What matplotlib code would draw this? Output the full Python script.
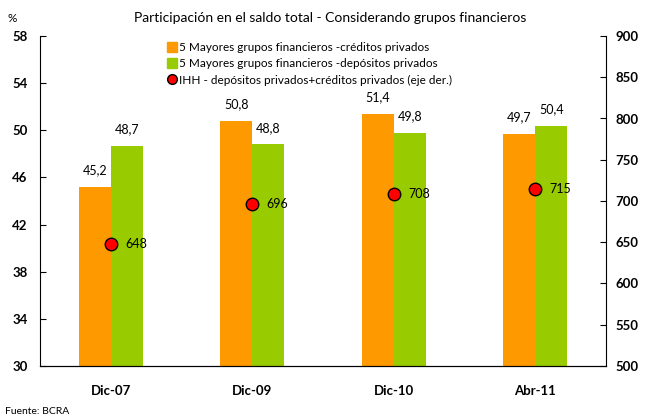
import numpy as np
import matplotlib
matplotlib.use('Agg')
import matplotlib.pyplot as plt
from matplotlib.lines import Line2D

plt.rcParams['font.family'] = ['Lato', 'DejaVu Sans']

# data
categories = ['Dic-07', 'Dic-09', 'Dic-10', 'Abr-11']
creditos = [45.2, 50.8, 51.4, 49.7]
depositos = [48.7, 48.8, 49.8, 50.4]
ihh = [648, 696, 708, 715]

orange = '#FF9900'
green = '#99CC00'

fig = plt.figure(figsize=(6.45, 4.19), dpi=100)
ax = fig.add_axes([40/645, 1 - 366/419, 566/645, 330/419])
x = np.arange(len(categories))
w = 0.226

ax.bar(x - w/2, creditos, w, color=orange, zorder=2)
ax.bar(x + w/2, depositos, w, color=green, zorder=2)
for xi, v in zip(x, creditos):
    ax.text(xi - w/2, v + 0.9, f'{v:.1f}'.replace('.', ','), ha='center', va='bottom', fontsize=9)
for xi, v in zip(x, depositos):
    ax.text(xi + w/2, v + 0.9, f'{v:.1f}'.replace('.', ','), ha='center', va='bottom', fontsize=9)

ax.set_ylim(30, 58)
ax.set_xlim(-0.5, 3.5)
ax.set_yticks(np.arange(30, 59, 4))
ax.set_xticks(x)
ax.set_xticklabels(categories, fontweight='bold', fontsize=9.5)
ax.tick_params(axis='x', length=0, pad=14)
ax.tick_params(axis='y', direction='in', length=4, labelsize=9.5, pad=9)
for lab in ax.get_yticklabels():
    lab.set_fontweight('bold')
ax.spines['top'].set_visible(False)
ax.spines['right'].set_visible(False)

ax2 = ax.twinx()
ax2.plot(x, ihh, linestyle='none', marker='o', markersize=9, markerfacecolor='#FF0000',
         markeredgecolor='black', markeredgewidth=1, zorder=5)
for xi, v in zip(x, ihh):
    ax2.text(xi + 0.1, v, str(v), ha='left', va='center', fontsize=9)
ax2.set_ylim(500, 900)
ax2.set_yticks(np.arange(500, 901, 50))
ax2.tick_params(axis='y', direction='in', length=4, labelsize=9.5, pad=7)
for lab in ax2.get_yticklabels():
    lab.set_fontweight('bold')
ax2.spines['top'].set_visible(False)
ax2.spines['left'].set_visible(False)

handles = [
    Line2D([], [], linestyle='none', marker='s', markersize=7, color=orange),
    Line2D([], [], linestyle='none', marker='s', markersize=7, color=green),
    Line2D([], [], linestyle='none', marker='o', markersize=7, markerfacecolor='#FF0000',
           markeredgecolor='black'),
]
labels = ['5 Mayores grupos financieros -créditos privados',
          '5 Mayores grupos financieros -depósitos privados',
          'IHH - depósitos privados+créditos privados (eje der.)']
fig.legend(handles, labels, loc='upper left', bbox_to_anchor=(160/645, 1 - 36/419),
           frameon=False, fontsize=8.5, handletextpad=0.1, labelspacing=0.45,
           borderpad=0, handlelength=1)

fig.text(330/645, 1 - 18/419, 'Participación en el saldo total - Considerando grupos financieros',
         ha='center', va='center', fontsize=10)
fig.text(12/645, 1 - 18/419, '%', ha='center', va='center', fontsize=8.5)
fig.text(5/645, 1 - 411/419, 'Fuente: BCRA', ha='left', va='center', fontsize=7.5)

fig.savefig('out.png', dpi=100)
